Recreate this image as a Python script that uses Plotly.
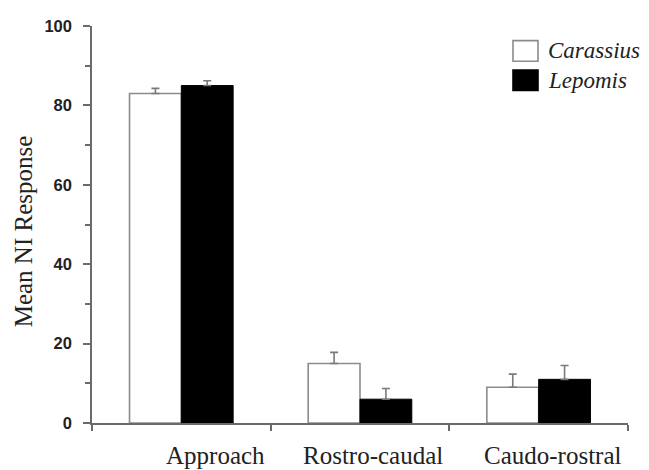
import plotly.graph_objects as go

categories = ["Approach", "Rostro-caudal", "Caudo-rostral"]
carassius = [83, 15, 9]
carassius_err = [1.3, 2.8, 3.3]
lepomis = [85, 6, 11]
lepomis_err = [1.2, 2.7, 3.5]
y_ticks = [0, 20, 40, 60, 80, 100]

xpos = list(range(len(categories)))
gray = "#7a7a7a"
axis_col = "#6a6a6a"

fig = go.Figure()
fig.add_trace(go.Bar(
    x=xpos, y=carassius, name="Carassius",
    marker=dict(color="white", line=dict(color="#8c8c8c", width=1.6)),
    error_y=dict(type="data", symmetric=False, array=carassius_err,
                 arrayminus=[0] * len(carassius), color=gray, thickness=1.6, width=4),
))
fig.add_trace(go.Bar(
    x=xpos, y=lepomis, name="Lepomis",
    marker=dict(color="black", line=dict(color="black", width=1)),
    error_y=dict(type="data", symmetric=False, array=lepomis_err,
                 arrayminus=[0] * len(lepomis), color=gray, thickness=1.6, width=4),
))

OFF = 8  # page body margin
W, H = 649 - OFF, 470 - OFF
PL, PR, PT, PB = 92, 628, 17, 423  # plot area in window pixels
L, T = PL - OFF, PT - OFF
R, B = W - (PR - OFF), H - (PB - OFF)
pw, ph = PR - PL, PB - PT

def px_x(p):
    return (p - PL) / pw

def px_y(p):
    return (PB - p) / ph

fig.update_layout(
    width=W, height=H,
    margin=dict(l=L, r=R, t=T, b=B),
    paper_bgcolor="white", plot_bgcolor="white",
    barmode="group", bargap=0.42, bargroupgap=0,
    showlegend=False,
    xaxis=dict(
        range=[-0.5, len(categories) - 0.5],
        tickvals=[i - 0.5 for i in range(len(categories) + 1)],
        showticklabels=False, ticks="outside", ticklen=6, tickwidth=1.5,
        tickcolor=axis_col, showline=True, linecolor=axis_col, linewidth=1.5,
        showgrid=False, zeroline=False,
    ),
    yaxis=dict(
        range=[0, 100], tickvals=y_ticks,
        ticks="outside", ticklen=7, tickwidth=1.5, tickcolor=axis_col,
        minor=dict(dtick=10, tick0=0, ticks="outside", ticklen=5, tickwidth=1.5, tickcolor=axis_col),
        showline=True, linecolor=axis_col, linewidth=1.5,
        showgrid=False, zeroline=False,
        tickfont=dict(family="Liberation Sans", size=16.5, color="#222", weight="bold"),
        ticklabelstandoff=8, ticklabeloverflow="allow",
    ),
)

annotations = []
for i, c in enumerate(categories):
    annotations.append(dict(
        x=i + 0.5, y=0, xref="x", yref="paper", text=c, showarrow=False,
        xanchor="right", yanchor="middle", xshift=-4, yshift=-32,
        font=dict(family="Liberation Serif", size=25, color="#222"),
    ))
annotations.append(dict(
    x=px_x(23), y=px_y(227), xref="paper", yref="paper", text="Mean NI Response",
    showarrow=False, textangle=-90, xanchor="center", yanchor="middle",
    font=dict(family="Liberation Serif", size=25, color="#222"),
))

legend_items = [("Carassius", "white", "#8c8c8c", 32, 53), ("Lepomis", "black", "black", 62, 83)]
shapes = []
for name, fill, line, top, bot in legend_items:
    shapes.append(dict(type="rect", xref="paper", yref="paper",
                       x0=px_x(513), x1=px_x(538), y0=px_y(bot), y1=px_y(top),
                       fillcolor=fill, line=dict(color=line, width=1.6)))
    annotations.append(dict(
        x=px_x(546), y=px_y((top + bot) / 2), xref="paper", yref="paper",
        text="<i>%s</i>" % name, showarrow=False, xanchor="left", yanchor="middle",
        font=dict(family="Liberation Serif", size=23, color="#222"),
    ))

fig.update_layout(annotations=annotations, shapes=shapes)
fig.write_html("out.html")
